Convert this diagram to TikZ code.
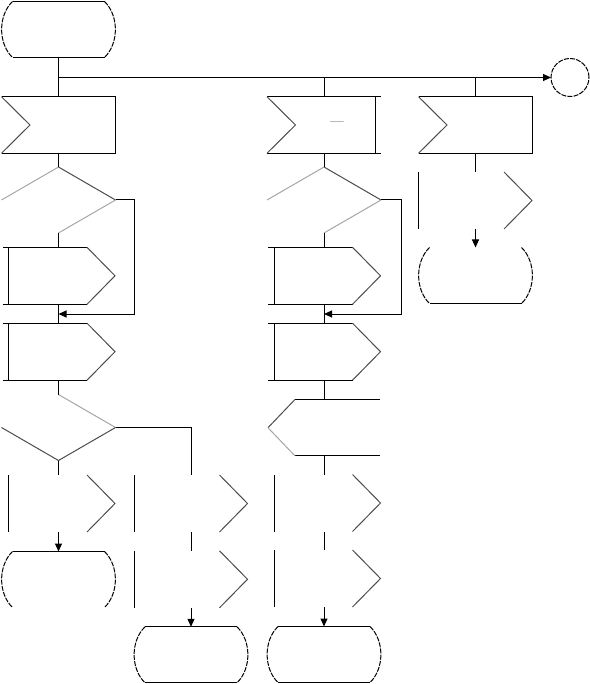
\documentclass[tikz,border=0pt]{standalone}
\usetikzlibrary{arrows.meta}
\tikzset{
  sym/.style={inner sep=0pt, outer sep=0pt, minimum width=114pt},
  termbox/.style={sym, minimum height=56pt},
  inbox/.style={sym, minimum height=56.5pt},
  askbox/.style={sym, minimum height=66pt},
  outbox/.style={sym, minimum height=57pt},
  linkbox/.style={circle, inner sep=0pt, outer sep=0pt, minimum size=38pt},
  edge/.style={line width=1pt},
  slant/.style={edge, draw=black!70},
  faint/.style={edge, draw=black!35},
  rim/.style={edge, dash pattern=on 5pt off 1.2pt},
  flow/.style={edge, -{Triangle[length=8pt,width=7pt]}},
  wire/.style={edge}
}

\begin{document}
\begin{tikzpicture}[x=1pt, y=-1pt]
  \useasboundingbox (0,0) rectangle (589,684);

  % symbols
  \node[termbox] (start) at (58.5,29.5) {};
  \node[inbox] (inA) at (58.5,125) {};
  \node[inbox] (inB) at (324,125) {};
  \node[inbox] (inC) at (475.5,125) {};
  \node[linkbox, draw, rim] (link) at (570,77.5) {};
  \node[askbox] (askA) at (58.5,200) {};
  \node[askbox] (askB) at (324,200) {};
  \node[outbox] (outC4) at (475.5,200.5) {};
  \node[termbox] (endC4) at (475.5,275.5) {};
  \node[outbox] (outA1) at (58.5,275.8) {};
  \node[outbox] (outB1) at (324,275.8) {};
  \node[outbox] (outA2) at (58.5,351.7) {};
  \node[outbox] (outB2) at (324,351.7) {};
  \node[askbox] (askA3) at (58.5,427.5) {};
  \node[inbox] (inB3) at (324,427.7) {};
  \node[outbox] (outA4) at (58.5,503.5) {};
  \node[outbox] (outC2a) at (191,503.5) {};
  \node[outbox] (outC3a) at (324,503) {};
  \node[termbox] (endA) at (58.5,579.5) {};
  \node[outbox] (outC2b) at (191,579.3) {};
  \node[outbox] (outC3b) at (324,578.5) {};
  \node[termbox] (endC2) at (191,654.8) {};
  \node[termbox] (endC3) at (324,654.5) {};
  \node[font=\fontsize{14}{16}\selectfont, anchor=base, inner sep=0pt] (mark) at (337,126) {---};

  % terminals
  \foreach \t in {start,endA,endC2,endC3}
    \draw[edge, shift={(\t.center)}] (-46,-28) -- (46,-28);
  \foreach \t in {start,endC2,endC3,endC4}
    \draw[edge, shift={(\t.center)}] (-46,28) -- (46,28);
  \foreach \t in {start,endA,endC2,endC3,endC4}
    \draw[rim, shift={(\t.center)}]
      (-46,-28) .. controls (-60.5,-14) and (-60.5,14) .. (-46,28)
      (46,-28) .. controls (60.5,-14) and (60.5,14) .. (46,28);

  % inputs
  \foreach \n/\r in {inA/57,inB/51,inC/57} {
    \draw[edge, shift={(\n.center)}] (-57,-28.25) -- (57,-28.25)
      (-57,28.25) -- (57,28.25) (\r,-28.25) -- (\r,28.25);
    \draw[slant, shift={(\n.center)}] (-57,-28.25) -- (-28.5,0) -- (-57,28.25);
  }
  \draw[edge, shift={(inB3.center)}] (56,-28.25) -- (-29,-28.25)
    (-29,28.25) -- (56,28.25);
  \draw[slant, shift={(inB3.center)}] (-29,-28.25) -- (-56,0);
  \draw[faint, shift={(inB3.center)}] (-56,0) -- (-29,28.25);

  % decisions
  \foreach \n in {askA,askB} {
    \draw[faint, shift={(\n.center)}] (0,-33) -- (-57,0);
    \draw[slant, shift={(\n.center)}] (0,-33) -- (57,0);
    \draw[faint, shift={(\n.center)}] (57,0) -- (0,33);
  }
  \draw[faint, shift={(askA3.center)}] (0,-33) -- (57,0);
  \draw[slant, shift={(askA3.center)}] (57,0) -- (0,33) -- (-57,0);

  % outputs
  \foreach \n in {outA1,outA2,outB1,outB2} {
    \draw[edge, shift={(\n.center)}] (28.5,-28.5) -- (-56,-28.5)
      (-56,28.5) -- (28.5,28.5) (-50,-28.5) -- (-50,28.5);
    \draw[slant, shift={(\n.center)}] (28.5,-28.5) -- (56.5,0) -- (28.5,28.5);
  }
  \foreach \n/\v in {outA4/-50,outC2a/-56.7,outC2b/-56.7,outC3a/-50,outC3b/-50,outC4/-57} {
    \draw[edge, shift={(\n.center)}] (\v,-28.5) -- (\v,28.5);
    \draw[slant, shift={(\n.center)}] (28.5,-28.5) -- (56.5,0) -- (28.5,28.5);
  }

  % connectors
  \coordinate (split) at (58.5,77.5);
  \coordinate (joinA) at (58.5,314);
  \coordinate (joinB) at (324,314);
  \draw[wire] (start.south) -- (inA.north);
  \draw[flow] (split) -- (link);
  \draw[wire] (inB.north) -- (inB.north |- split);
  \draw[wire] (inC.north) -- (inC.north |- split);

  \draw[wire] (inA.south) -- (askA.north);
  \draw[wire] (askA.south) -- (outA1.north);
  \draw[wire] (outA1.south) -- (outA2.north);
  \draw[flow] (askA.east) -- ++(19,0) |- (joinA);
  \draw[wire] (outA2.south) -- (askA3.north);
  \draw[wire] (askA3.south) -- (outA4.north);
  \draw[flow] (outA4.south) -- (endA.north);
  \draw[wire] (askA3.east) -| (outC2a.north);
  \draw[wire] (outC2a.south) -- (outC2b.north);
  \draw[flow] (outC2b.south) -- (endC2.north);

  \draw[wire] (inB.south) -- (askB.north);
  \draw[wire] (askB.south) -- (outB1.north);
  \draw[wire] (outB1.south) -- (outB2.north);
  \draw[flow] (askB.east) -- ++(20,0) |- (joinB);
  \draw[wire] (outB2.south) -- (inB3.north);
  \draw[wire] (inB3.south) -- (outC3a.north);
  \draw[wire] (outC3a.south) -- (outC3b.north);
  \draw[flow] (outC3b.south) -- (endC3.north);

  \draw[wire] (inC.south) -- (outC4.north);
  \draw[flow] (outC4.south) -- (endC4.north);
\end{tikzpicture}
\end{document}
